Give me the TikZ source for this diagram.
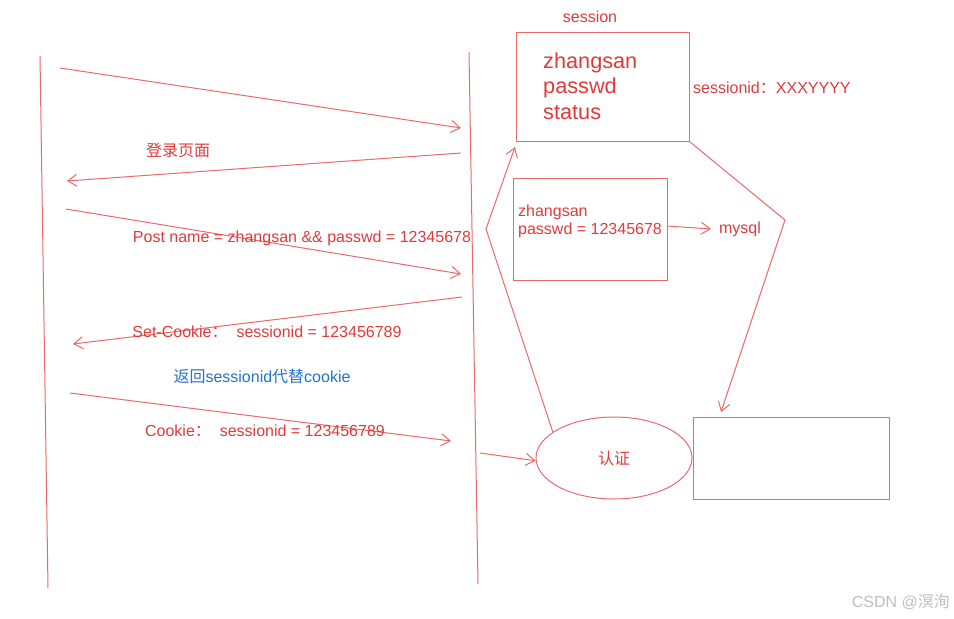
\documentclass[tikz,border=0pt]{standalone}
\usepackage{fontspec}
\setmainfont{Liberation Sans}
\newfontfamily\cjk{Noto Sans CJK SC}
\usetikzlibrary{arrows.meta,shapes.geometric}
\definecolor{lred}{HTML}{E86A6A}
\definecolor{tred}{HTML}{E03A3A}
\definecolor{tblue}{HTML}{2474C8}
\tikzset{
  ln/.style={draw=lred, line width=1pt},
  arr/.style={ln, -{Straight Barb[length=9pt,width=12pt,line width=1pt]}},
  lbl/.style={text=tred, font=\fontsize{16}{19}\selectfont, inner sep=0pt},
  big/.style={text=tred, font=\fontsize{21.7}{25}\selectfont, inner sep=0pt, anchor=west},
  box/.style={draw=lred, line width=1pt, inner sep=0pt, anchor=north west},
}
\begin{document}
\begin{tikzpicture}[x=1pt,y=-1pt]
\useasboundingbox (0,0) rectangle (954,619);
% lifelines
\coordinate (l1) at (40,56); \coordinate (l2) at (48,588);
\coordinate (m1) at (469,52); \coordinate (m2) at (478,584);
\draw[ln] (l1) -- (l2);
\draw[ln] (m1) -- (m2);
% messages
\coordinate (a1s) at (60,68); \coordinate (a1e) at (461,128);
\coordinate (a2s) at (461,153); \coordinate (a2e) at (67,181);
\coordinate (a3s) at (66,209); \coordinate (a3e) at (461,274);
\coordinate (a4s) at (462,297); \coordinate (a4e) at (73,344);
\coordinate (a5s) at (70,393); \coordinate (a5e) at (451,441);
\draw[arr] (a1s) -- (a1e);
\draw[arr] (a2s) -- (a2e);
\draw[arr] (a3s) -- (a3e);
\draw[arr] (a4s) -- (a4e);
\draw[arr] (a5s) -- (a5e);
\node[lbl] (t2) at (178,150) {\cjk 登录页面};
\node[lbl] (t3) at (302,238) {Post name = zhangsan \&\& passwd = 12345678};
\node[lbl] (t4) at (267,332) {Set-Cookie{\cjk ：}\ \ sessionid = 123456789};
\node[lbl, text=tblue] (t5) at (262,376) {{\cjk 返回}sessionid{\cjk 代替}cookie};
\node[lbl] (t6) at (265,431) {Cookie{\cjk ：}\ \ sessionid = 123456789};
% session box
\node[box, minimum width=173, minimum height=109] (sess) at (516,32) {};
\node[lbl] (sesst) at (590,17) {session};
\node[big] (z1) at (543,63) {zhangsan};
\node[big] (z2) at (543,88) {passwd};
\node[big] (z3) at (543,113) {status};
\node[lbl, anchor=west] (sid) at (693,88) {sessionid{\cjk ：}XXXYYYY};
% user box
\node[box, minimum width=154, minimum height=102] (ubox) at (513,178) {};
\node[lbl, anchor=west] (u1) at (518,212) {zhangsan};
\node[lbl, anchor=west] (u2) at (518,230) {passwd = 12345678};
\node[lbl] (mysql) at (740,229) {mysql};
\coordinate (mys) at (667,226); \coordinate (mye) at (711,229);
\draw[arr] (mys) -- (mye);
% auth ellipse
\node[ellipse, draw=lred, line width=1pt, minimum width=156, minimum height=82, text=tred, font=\cjk\fontsize{16}{19}\selectfont] (auth) at (614,458) {认证};
\coordinate (a6s) at (480,453);
\draw[arr] (a6s) -- (auth.182);
% right box
\node[box, minimum width=196, minimum height=82] (rbox) at (693,417) {};
% polylines
\coordinate (p1) at (486,229); \coordinate (p1e) at (515,147);
\draw[arr] (auth.157) -- (p1) -- (p1e);
\coordinate (p2) at (785,220); \coordinate (p2e) at (721,412);
\draw[arr] (sess.south east) -- (p2) -- (p2e);
% watermark
\node[text=black!25, font=\fontsize{16}{19}\selectfont, inner sep=0pt, anchor=east] (wm) at (950,602) {CSDN @{\cjk 溟洵}};
\end{tikzpicture}
\end{document}
